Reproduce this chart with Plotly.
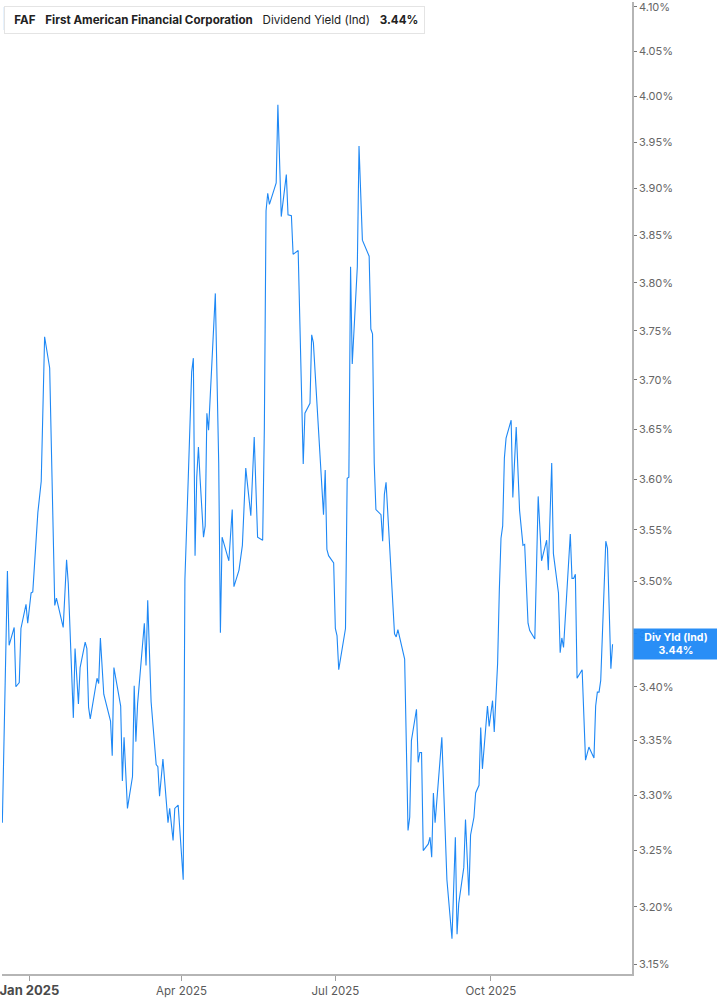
import math
import plotly.graph_objs as go

# FAF indicated dividend yield (percent)
dates = [
    "2024-12-16", "2024-12-19", "2024-12-20", "2024-12-23", "2024-12-24", "2024-12-26",
    "2024-12-27", "2024-12-30", "2024-12-31", "2025-01-02", "2025-01-03", "2025-01-05",
    "2025-01-06", "2025-01-08", "2025-01-10", "2025-01-13", "2025-01-15", "2025-01-16",
    "2025-01-17", "2025-01-21", "2025-01-23", "2025-01-24", "2025-01-27", "2025-01-28",
    "2025-01-30", "2025-01-31", "2025-02-03", "2025-02-04", "2025-02-05", "2025-02-06",
    "2025-02-10", "2025-02-11", "2025-02-12", "2025-02-14", "2025-02-18", "2025-02-19",
    "2025-02-20", "2025-02-24", "2025-02-25", "2025-02-26", "2025-02-28", "2025-03-03",
    "2025-03-04", "2025-03-05", "2025-03-06", "2025-03-10", "2025-03-11", "2025-03-12",
    "2025-03-14", "2025-03-17", "2025-03-18", "2025-03-19", "2025-03-21", "2025-03-24",
    "2025-03-25", "2025-03-27", "2025-03-28", "2025-03-30", "2025-04-02", "2025-04-03",
    "2025-04-05", "2025-04-07", "2025-04-08", "2025-04-09", "2025-04-10", "2025-04-11",
    "2025-04-12", "2025-04-14", "2025-04-15", "2025-04-16", "2025-04-17", "2025-04-19",
    "2025-04-21", "2025-04-23", "2025-04-24", "2025-04-25", "2025-04-27", "2025-04-29",
    "2025-05-01", "2025-05-02", "2025-05-05", "2025-05-07", "2025-05-09", "2025-05-12",
    "2025-05-14", "2025-05-16", "2025-05-19", "2025-05-20", "2025-05-21", "2025-05-22",
    "2025-05-23", "2025-05-27", "2025-05-28", "2025-05-30", "2025-06-02", "2025-06-03",
    "2025-06-05", "2025-06-06", "2025-06-09", "2025-06-12", "2025-06-13", "2025-06-16",
    "2025-06-17", "2025-06-18", "2025-06-24", "2025-06-25", "2025-06-26", "2025-06-27",
    "2025-06-30", "2025-07-01", "2025-07-02", "2025-07-03", "2025-07-07", "2025-07-08",
    "2025-07-09", "2025-07-10", "2025-07-11", "2025-07-14", "2025-07-15", "2025-07-17",
    "2025-07-21", "2025-07-22", "2025-07-23", "2025-07-24", "2025-07-25", "2025-07-28",
    "2025-07-29", "2025-07-30", "2025-07-31", "2025-08-05", "2025-08-06", "2025-08-07",
    "2025-08-11", "2025-08-13", "2025-08-14", "2025-08-15", "2025-08-18", "2025-08-19",
    "2025-08-20", "2025-08-21", "2025-08-22", "2025-08-23", "2025-08-25", "2025-08-26",
    "2025-08-27", "2025-08-28", "2025-08-29", "2025-09-02", "2025-09-05", "2025-09-08",
    "2025-09-10", "2025-09-11", "2025-09-12", "2025-09-15", "2025-09-16", "2025-09-18",
    "2025-09-19", "2025-09-21", "2025-09-22", "2025-09-24", "2025-09-25", "2025-09-26",
    "2025-09-29", "2025-09-30", "2025-10-02", "2025-10-03", "2025-10-05", "2025-10-06",
    "2025-10-07", "2025-10-08", "2025-10-09", "2025-10-10", "2025-10-13", "2025-10-14",
    "2025-10-16", "2025-10-18", "2025-10-20", "2025-10-21", "2025-10-23", "2025-10-24",
    "2025-10-27", "2025-10-29", "2025-10-31", "2025-11-03", "2025-11-04", "2025-11-06",
    "2025-11-07", "2025-11-10", "2025-11-11", "2025-11-12", "2025-11-13", "2025-11-17",
    "2025-11-18", "2025-11-19", "2025-11-20", "2025-11-21", "2025-11-24", "2025-11-26",
    "2025-11-28", "2025-12-01", "2025-12-02", "2025-12-03", "2025-12-04", "2025-12-05",
    "2025-12-08", "2025-12-09", "2025-12-11", "2025-12-12",
]

div_yield = [
    3.275, 3.51, 3.439, 3.456, 3.40, 3.404,
    3.455, 3.478, 3.46, 3.489, 3.49, 3.546,
    3.567, 3.598, 3.744, 3.712, 3.572, 3.477,
    3.484, 3.456, 3.521, 3.498, 3.371, 3.436,
    3.384, 3.418, 3.442, 3.436, 3.381, 3.37,
    3.408, 3.403, 3.446, 3.393, 3.368, 3.336,
    3.418, 3.382, 3.313, 3.353, 3.288, 3.317,
    3.401, 3.349, 3.384, 3.46, 3.42, 3.482,
    3.386, 3.328, 3.326, 3.299, 3.333, 3.275,
    3.288, 3.259, 3.288, 3.291, 3.224, 3.502,
    3.602, 3.708, 3.722, 3.525, 3.602, 3.632,
    3.60, 3.543, 3.554, 3.666, 3.649, 3.715,
    3.789, 3.616, 3.451, 3.543, 3.531, 3.52,
    3.57, 3.495, 3.511, 3.535, 3.611, 3.564,
    3.642, 3.543, 3.54, 3.651, 3.876, 3.895,
    3.883, 3.906, 3.991, 3.87, 3.915, 3.872,
    3.871, 3.83, 3.834, 3.615, 3.666, 3.676,
    3.746, 3.738, 3.565, 3.609, 3.531, 3.525,
    3.518, 3.455, 3.448, 3.416, 3.455, 3.601,
    3.602, 3.817, 3.716, 3.817, 3.946, 3.845,
    3.828, 3.752, 3.747, 3.616, 3.57, 3.565,
    3.539, 3.585, 3.597, 3.45, 3.447, 3.454,
    3.426, 3.268, 3.28, 3.35, 3.379, 3.33,
    3.339, 3.339, 3.25, 3.252, 3.256, 3.262,
    3.244, 3.302, 3.275, 3.353, 3.224, 3.172,
    3.262, 3.176, 3.203, 3.235, 3.278, 3.21,
    3.264, 3.28, 3.302, 3.309, 3.362, 3.324,
    3.382, 3.363, 3.387, 3.358, 3.422, 3.491,
    3.542, 3.554, 3.621, 3.641, 3.659, 3.582,
    3.652, 3.569, 3.535, 3.536, 3.46, 3.453,
    3.445, 3.583, 3.52, 3.54, 3.511, 3.616,
    3.527, 3.489, 3.432, 3.446, 3.437, 3.546,
    3.503, 3.503, 3.507, 3.408, 3.416, 3.332,
    3.344, 3.334, 3.382, 3.395, 3.395, 3.406,
    3.539, 3.532, 3.417, 3.44,
]

y_ticks = [3.15, 3.20, 3.25, 3.30, 3.35, 3.40, 3.45, 3.50, 3.55, 3.60,
           3.65, 3.70, 3.75, 3.80, 3.85, 3.90, 3.95, 4.00, 4.05, 4.10]
x_ticks = ["2025-01-01", "2025-04-01", "2025-07-01", "2025-10-01"]
x_labels = ["<b><span style='font-size:13px;color:#4a4a4a'>Jan 2025</span></b>",
            "Apr 2025", "Jul 2025", "Oct 2025"]
last_value = 3.44

LINE_BLUE = "#1e88f5"
FONT = "Inter, Roboto, sans-serif"

fig = go.Figure()
fig.add_trace(go.Scatter(x=dates, y=div_yield, mode="lines",
                         line=dict(color=LINE_BLUE, width=1.1),
                         name="Div Yld (Ind)", showlegend=False))

fig.update_layout(
    width=717, height=1005,
    margin=dict(l=0, r=85, t=0, b=31),
    paper_bgcolor="white", plot_bgcolor="white",
    font=dict(family=FONT, size=11, color="#555555"),
    showlegend=False,
)

fig.update_xaxes(
    range=["2024-12-15 19:00", "2025-12-23 12:00"],
    tickvals=x_ticks, ticktext=x_labels,
    ticklabeloverflow="allow",
    showgrid=False, zeroline=False,
    showline=True, linecolor="#b5b5b5", linewidth=1.5,
    ticks="outside", ticklen=5, tickcolor="#a0a0a0",
    tickfont=dict(size=11.5, color="#5a5a5a"),
)

fig.update_yaxes(
    type="log", side="right",
    range=[math.log10(3.1414), math.log10(4.1056)],
    tickvals=y_ticks, ticktext=[f"{v:.2f}%" for v in y_ticks],
    ticklabeloverflow="allow",
    showgrid=False, zeroline=False,
    showline=True, linecolor="#b5b5b5", linewidth=1.5,
    ticks="outside", ticklen=3, tickcolor="#777777",
    tickfont=dict(size=11, color="#666666"),
)

# header strip
fig.add_annotation(
    xref="paper", yref="paper", x=0.0032, y=0.996, xanchor="left", yanchor="top",
    text="&nbsp;<b>FAF</b>   <b>First American Financial Corporation</b>   "
         "Dividend Yield (Ind)   <b>3.44%</b>",
    showarrow=False, align="left",
    font=dict(family=FONT, size=11.6, color="#222222"),
    bgcolor="white", bordercolor="#e4e4e4", borderwidth=1, borderpad=6,
)
fig.add_shape(type="rect", xref="paper", yref="paper",
              x0=0.003, x1=0.008, y0=0.971, y1=0.995,
              fillcolor=LINE_BLUE, line=dict(width=0))

# last value tag on the right axis
fig.add_annotation(
    xref="paper", yref="y", x=1.0, y=math.log10(last_value),
    xanchor="left", yanchor="middle", xshift=1,
    text=f"<b>Div Yld (Ind)</b><br><b>{last_value:.2f}%</b>",
    showarrow=False, align="center",
    font=dict(family=FONT, size=10.5, color="white"),
    bgcolor="rgba(30,136,245,0.95)", width=80, height=26, borderpad=2,
)

fig.write_html("out.html", config={"displayModeBar": False},
               post_script="document.body.style.margin='0';")
